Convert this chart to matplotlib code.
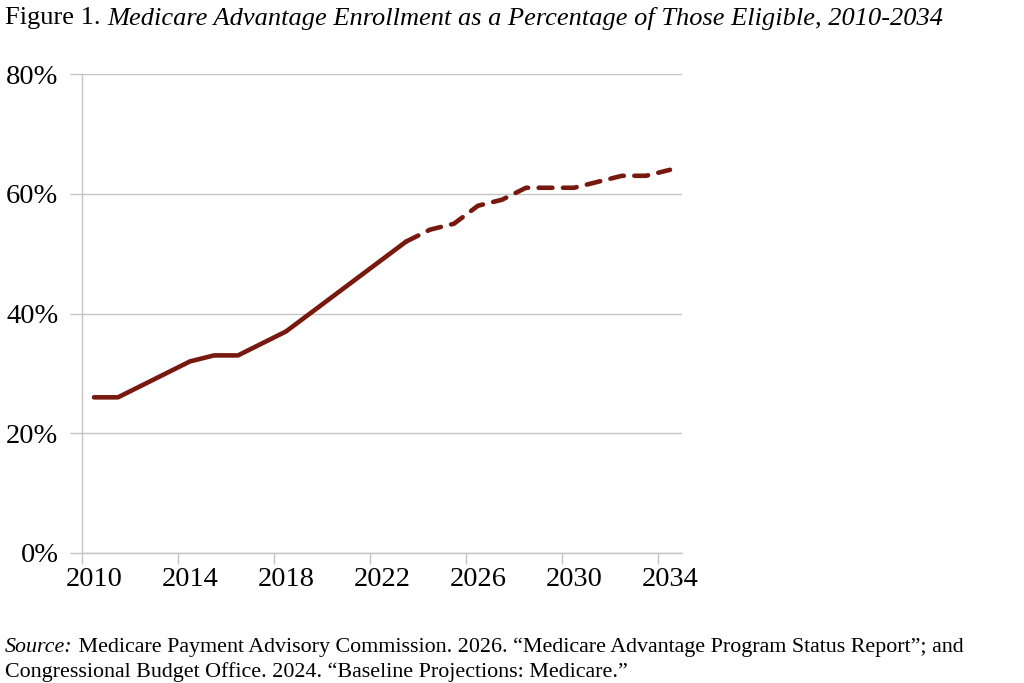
import matplotlib
matplotlib.use("Agg")
import matplotlib.pyplot as plt
from matplotlib.ticker import FixedLocator, NullFormatter, FixedFormatter

years = list(range(2010, 2035))
share = [26, 26, 28, 30, 32, 33, 33, 35, 37, 40, 43, 46, 49, 52,
         54, 55, 58, 59, 61, 61, 61, 62, 63, 63, 64]
last_actual_year = 2023
y_ticks = [0, 20, 40, 60, 80]
y_labels = ["0%", "20%", "40%", "60%", "80%"]
x_label_years = [2010, 2014, 2018, 2022, 2026, 2030, 2034]

title_plain = "Figure 1. "
title_italic = "Medicare Advantage Enrollment as a Percentage of Those Eligible, 2010-2034"
source_italic = "Source:"
source_rest1 = " Medicare Payment Advisory Commission. 2026. \u201cMedicare Advantage Program Status Report\u201d; and"
source_line2 = "Congressional Budget Office. 2024. \u201cBaseline Projections: Medicare.\u201d"

plt.rcParams['font.family'] = ['Liberation Serif', 'DejaVu Serif']

fig = plt.figure(figsize=(10.24, 6.83), dpi=100)
ax = fig.add_axes([82/1024, 1-553/683, 600/1024, 479/683])

color = '#78190F'
idx = list(range(len(years)))
split = years.index(last_actual_year)
lw = 3.3
ax.plot(idx[:split+1], share[:split+1], color=color, lw=lw,
        solid_capstyle='round', solid_joinstyle='round', zorder=3)
ax.plot(idx[split:], share[split:], color=color, lw=lw, linestyle=(0, (3.0, 2.3)),
        dash_capstyle='round', dash_joinstyle='round', zorder=3)

ax.set_xlim(-0.5, len(years) - 0.5)
ax.set_ylim(0, 80)

grid_c = '#C4C4C4'
ax.set_yticks(y_ticks)
ax.set_yticklabels(y_labels, fontsize=20.5)
ax.yaxis.grid(True, color=grid_c, lw=1.0)
ax.set_axisbelow(True)

# ticks at category boundaries, labels at category centers
ax.xaxis.set_major_locator(FixedLocator([years.index(y) - 0.5 for y in x_label_years]))
ax.xaxis.set_major_formatter(NullFormatter())
ax.xaxis.set_minor_locator(FixedLocator([years.index(y) for y in x_label_years]))
ax.xaxis.set_minor_formatter(FixedFormatter([str(y) for y in x_label_years]))
ax.tick_params(axis='x', which='major', length=8, width=1, color=grid_c, direction='out')
ax.tick_params(axis='x', which='minor', length=0, labelsize=20.5, pad=10)
ax.tick_params(axis='y', length=9, width=1, color=grid_c, direction='out', pad=8)

for s in ['top', 'right']:
    ax.spines[s].set_visible(False)
for s in ['left', 'bottom']:
    ax.spines[s].set_color(grid_c)
    ax.spines[s].set_linewidth(1.0)

# title
t1 = fig.text(5/1024, 1-18/683, title_plain, fontsize=19, va='center', ha='left')
fig.canvas.draw()
bb = t1.get_window_extent()
fig.text(bb.x1/1024, 1-18/683, title_italic, fontsize=19, style='italic', va='center', ha='left')

# source
fs = 15.8
s1 = fig.text(5/1024, 1-647/683, source_italic, fontsize=fs, style='italic', va='center', ha='left')
fig.canvas.draw()
bb = s1.get_window_extent()
fig.text(bb.x1/1024, 1-647/683, source_rest1, fontsize=fs, va='center', ha='left')
fig.text(5/1024, 1-672/683, source_line2, fontsize=fs, va='center', ha='left')

fig.savefig("out.png", dpi=100)
